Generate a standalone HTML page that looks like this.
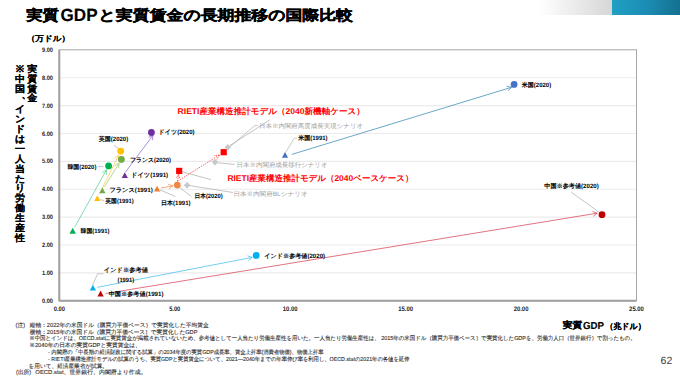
<!DOCTYPE html>
<html><head><meta charset="utf-8"><style>
html,body{margin:0;padding:0;background:#fff;}
body{width:680px;height:378px;overflow:hidden;font-family:"Liberation Sans",sans-serif;}
svg{display:block;text-rendering:geometricPrecision;font-family:"Liberation Sans",sans-serif;}
</style></head><body>
<svg width="680" height="378" viewBox="0 0 680 378">
<defs>
<linearGradient id="gg" x1="0" x2="1" y1="0" y2="0"><stop offset="0" stop-color="#ffffff"/><stop offset="1" stop-color="#d6d6d6"/></linearGradient>
<linearGradient id="bg" x1="0" x2="1" y1="0" y2="0"><stop offset="0" stop-color="#20a0c4"/><stop offset="0.5" stop-color="#1c8db5"/><stop offset="1" stop-color="#15708f"/></linearGradient>
</defs>
<rect x="540" y="0" width="72" height="15" fill="url(#gg)"/>
<rect x="612" y="0" width="68" height="15" fill="url(#bg)"/>
<line x1="59.3" y1="272.91" x2="636.5" y2="272.91" stroke="#ebebeb" stroke-width="1.1"/>
<line x1="59.3" y1="245.02" x2="636.5" y2="245.02" stroke="#ebebeb" stroke-width="1.1"/>
<line x1="59.3" y1="217.13" x2="636.5" y2="217.13" stroke="#ebebeb" stroke-width="1.1"/>
<line x1="59.3" y1="189.24" x2="636.5" y2="189.24" stroke="#ebebeb" stroke-width="1.1"/>
<line x1="59.3" y1="161.36" x2="636.5" y2="161.36" stroke="#ebebeb" stroke-width="1.1"/>
<line x1="59.3" y1="133.47" x2="636.5" y2="133.47" stroke="#ebebeb" stroke-width="1.1"/>
<line x1="59.3" y1="105.58" x2="636.5" y2="105.58" stroke="#ebebeb" stroke-width="1.1"/>
<line x1="59.3" y1="77.69" x2="636.5" y2="77.69" stroke="#ebebeb" stroke-width="1.1"/>
<rect x="59.3" y="49.8" width="577.20" height="251.00" fill="none" stroke="#a6a6a6" stroke-width="1"/>
<line x1="59.3" y1="49.8" x2="59.3" y2="301.3" stroke="#a0a0a0" stroke-width="2"/>
<line x1="59.3" y1="300.8" x2="636.5" y2="300.8" stroke="#a0a0a0" stroke-width="2"/>
<text x="53.0" y="301.40" font-size="6.3" font-weight="bold" text-anchor="end" dominant-baseline="central" fill="#262626" textLength="11.0" lengthAdjust="spacingAndGlyphs">0.00</text>
<text x="53.0" y="273.51" font-size="6.3" font-weight="bold" text-anchor="end" dominant-baseline="central" fill="#262626" textLength="11.0" lengthAdjust="spacingAndGlyphs">1.00</text>
<text x="53.0" y="245.62" font-size="6.3" font-weight="bold" text-anchor="end" dominant-baseline="central" fill="#262626" textLength="11.0" lengthAdjust="spacingAndGlyphs">2.00</text>
<text x="53.0" y="217.73" font-size="6.3" font-weight="bold" text-anchor="end" dominant-baseline="central" fill="#262626" textLength="11.0" lengthAdjust="spacingAndGlyphs">3.00</text>
<text x="53.0" y="189.84" font-size="6.3" font-weight="bold" text-anchor="end" dominant-baseline="central" fill="#262626" textLength="11.0" lengthAdjust="spacingAndGlyphs">4.00</text>
<text x="53.0" y="161.96" font-size="6.3" font-weight="bold" text-anchor="end" dominant-baseline="central" fill="#262626" textLength="11.0" lengthAdjust="spacingAndGlyphs">5.00</text>
<text x="53.0" y="134.07" font-size="6.3" font-weight="bold" text-anchor="end" dominant-baseline="central" fill="#262626" textLength="11.0" lengthAdjust="spacingAndGlyphs">6.00</text>
<text x="53.0" y="106.18" font-size="6.3" font-weight="bold" text-anchor="end" dominant-baseline="central" fill="#262626" textLength="11.0" lengthAdjust="spacingAndGlyphs">7.00</text>
<text x="53.0" y="78.29" font-size="6.3" font-weight="bold" text-anchor="end" dominant-baseline="central" fill="#262626" textLength="11.0" lengthAdjust="spacingAndGlyphs">8.00</text>
<text x="53.0" y="50.40" font-size="6.3" font-weight="bold" text-anchor="end" dominant-baseline="central" fill="#262626" textLength="11.0" lengthAdjust="spacingAndGlyphs">9.00</text>
<text x="59.30" y="309.6" font-size="6.5" font-weight="bold" text-anchor="middle" dominant-baseline="central" fill="#262626" textLength="11.2" lengthAdjust="spacingAndGlyphs">0.00</text>
<text x="174.74" y="309.6" font-size="6.5" font-weight="bold" text-anchor="middle" dominant-baseline="central" fill="#262626" textLength="11.2" lengthAdjust="spacingAndGlyphs">5.00</text>
<text x="290.18" y="309.6" font-size="6.5" font-weight="bold" text-anchor="middle" dominant-baseline="central" fill="#262626" textLength="14.8" lengthAdjust="spacingAndGlyphs">10.00</text>
<text x="405.62" y="309.6" font-size="6.5" font-weight="bold" text-anchor="middle" dominant-baseline="central" fill="#262626" textLength="14.8" lengthAdjust="spacingAndGlyphs">15.00</text>
<text x="521.06" y="309.6" font-size="6.5" font-weight="bold" text-anchor="middle" dominant-baseline="central" fill="#262626" textLength="14.8" lengthAdjust="spacingAndGlyphs">20.00</text>
<text x="636.50" y="309.6" font-size="6.5" font-weight="bold" text-anchor="middle" dominant-baseline="central" fill="#262626" textLength="14.8" lengthAdjust="spacingAndGlyphs">25.00</text>
<line x1="291.8" y1="154.4" x2="511.5" y2="87.3" stroke="#4691b8" stroke-width="0.8"/>
<line x1="511.50" y1="87.30" x2="506.60" y2="86.29" stroke="#4691b8" stroke-width="0.8"/>
<line x1="511.50" y1="87.30" x2="508.00" y2="90.87" stroke="#4691b8" stroke-width="0.8"/>
<line x1="105.6" y1="293.5" x2="597.2" y2="213.2" stroke="#d9505e" stroke-width="0.8"/>
<line x1="597.20" y1="213.20" x2="592.48" y2="211.54" stroke="#d9505e" stroke-width="0.8"/>
<line x1="597.20" y1="213.20" x2="593.26" y2="216.27" stroke="#d9505e" stroke-width="0.8"/>
<line x1="97.3" y1="287.3" x2="252.2" y2="257.4" stroke="#4fc3ef" stroke-width="0.8"/>
<line x1="252.20" y1="257.40" x2="247.44" y2="255.88" stroke="#4fc3ef" stroke-width="0.8"/>
<line x1="252.20" y1="257.40" x2="248.35" y2="260.59" stroke="#4fc3ef" stroke-width="0.8"/>
<line x1="74.64" y1="227.3" x2="106.42" y2="169.84" stroke="#5fd39e" stroke-width="0.8"/>
<line x1="106.42" y1="169.84" x2="102.20" y2="172.52" stroke="#5fd39e" stroke-width="0.8"/>
<line x1="106.42" y1="169.84" x2="106.39" y2="174.84" stroke="#5fd39e" stroke-width="0.8"/>
<line x1="99.08" y1="194.52" x2="118.69" y2="155.13" stroke="#ffc94a" stroke-width="0.8"/>
<line x1="118.69" y1="155.13" x2="114.59" y2="157.99" stroke="#ffc94a" stroke-width="0.8"/>
<line x1="118.69" y1="155.13" x2="118.88" y2="160.13" stroke="#ffc94a" stroke-width="0.8"/>
<line x1="104.5" y1="186.89" x2="119.04" y2="163.23" stroke="#9fcf86" stroke-width="0.8"/>
<line x1="119.04" y1="163.23" x2="114.70" y2="165.71" stroke="#9fcf86" stroke-width="0.8"/>
<line x1="119.04" y1="163.23" x2="118.78" y2="168.22" stroke="#9fcf86" stroke-width="0.8"/>
<line x1="125.5" y1="172.0" x2="153.0" y2="135.3" stroke="#9b6fce" stroke-width="0.8"/>
<line x1="153.00" y1="135.30" x2="148.45" y2="137.37" stroke="#9b6fce" stroke-width="0.8"/>
<line x1="153.00" y1="135.30" x2="152.29" y2="140.25" stroke="#9b6fce" stroke-width="0.8"/>
<line x1="161.04" y1="187.92" x2="172.87" y2="185.87" stroke="#f0905a" stroke-width="0.8"/>
<line x1="172.87" y1="185.87" x2="168.14" y2="184.26" stroke="#f0905a" stroke-width="0.8"/>
<line x1="172.87" y1="185.87" x2="168.96" y2="188.98" stroke="#f0905a" stroke-width="0.8"/>
<line x1="177.4" y1="181.6" x2="178.6" y2="174.2" stroke="#ff3b3b" stroke-width="0.8" stroke-dasharray="1.4 1.1"/>
<line x1="178.60" y1="174.20" x2="175.94" y2="178.43" stroke="#ff3b3b" stroke-width="0.8" stroke-dasharray="1.4 1.1"/>
<line x1="178.60" y1="174.20" x2="179.78" y2="179.06" stroke="#ff3b3b" stroke-width="0.8" stroke-dasharray="1.4 1.1"/>
<line x1="177.6" y1="181.2" x2="219.5" y2="155.0" stroke="#ff3b3b" stroke-width="0.8" stroke-dasharray="1.4 1.1"/>
<line x1="219.50" y1="155.00" x2="214.03" y2="155.60" stroke="#ff3b3b" stroke-width="0.8" stroke-dasharray="1.4 1.1"/>
<line x1="219.50" y1="155.00" x2="216.57" y2="159.65" stroke="#ff3b3b" stroke-width="0.8" stroke-dasharray="1.4 1.1"/>
<line x1="114" y1="145" x2="118.3" y2="148.5" stroke="#b0b0b0" stroke-width="0.75"/>
<line x1="97.7" y1="166.7" x2="103.6" y2="166.7" stroke="#b0b0b0" stroke-width="0.75"/>
<line x1="100.3" y1="199.6" x2="104.1" y2="200.6" stroke="#b0b0b0" stroke-width="0.75"/>
<line x1="179.7" y1="187.5" x2="191.3" y2="196.5" stroke="#b0b0b0" stroke-width="0.75"/>
<line x1="160" y1="189.9" x2="175.4" y2="196.5" stroke="#b0b0b0" stroke-width="0.75"/>
<line x1="182.2" y1="171.8" x2="211" y2="179.6" stroke="#b0b0b0" stroke-width="0.75"/>
<line x1="189.5" y1="185.6" x2="233" y2="192.5" stroke="#b0b0b0" stroke-width="0.75"/>
<line x1="217.5" y1="162.8" x2="234.7" y2="164.4" stroke="#b0b0b0" stroke-width="0.75"/>
<polyline points="225.5,150.6 254.6,125.6 257.8,125.6" fill="none" stroke="#b0b0b0" stroke-width="0.7"/>
<line x1="229.5" y1="145.8" x2="269.8" y2="119.9" stroke="#b0b0b0" stroke-width="0.75"/>
<polyline points="285.5,152.5 294.3,138.2 296.8,138.2" fill="none" stroke="#b0b0b0" stroke-width="0.7"/>
<line x1="571.2" y1="192.2" x2="599.3" y2="212.3" stroke="#b0b0b0" stroke-width="0.75"/>
<polyline points="92.5,285 97.6,273.8 103.5,273.8" fill="none" stroke="#b0b0b0" stroke-width="0.7"/>
<polygon points="281.90,157.80 288.10,157.80 285.00,152.00" fill="#4472c4"/>
<circle cx="514.1" cy="84.4" r="3.4" fill="#4472c4"/>
<polygon points="97.50,296.40 103.70,296.40 100.60,290.60" fill="#c00000"/>
<circle cx="602.0" cy="214.7" r="3.4" fill="#c00000"/>
<polygon points="89.80,290.50 96.00,290.50 92.90,284.70" fill="#00b0f0"/>
<circle cx="256.2" cy="255.4" r="3.4" fill="#00b0f0"/>
<polygon points="69.45,233.80 75.95,233.80 72.70,227.80" fill="#00b050"/>
<circle cx="108.6" cy="165.9" r="3.4" fill="#00b050"/>
<polygon points="94.20,201.00 100.40,201.00 97.30,195.20" fill="#ffc000"/>
<circle cx="120.7" cy="151.1" r="3.4" fill="#ffc000"/>
<polygon points="99.30,193.20 105.50,193.20 102.40,187.40" fill="#70ad47"/>
<circle cx="121.4" cy="159.4" r="3.4" fill="#70ad47"/>
<polygon points="121.70,178.10 127.90,178.10 124.80,172.30" fill="#7030a0"/>
<circle cx="151.4" cy="132.5" r="3.4" fill="#7030a0"/>
<polygon points="154.00,191.50 160.20,191.50 157.10,185.70" fill="#ed7d31"/>
<circle cx="177.3" cy="185.1" r="3.4" fill="#ee8644"/>
<rect x="176.10" y="167.80" width="6.2" height="6.2" fill="#ff0000"/>
<rect x="220.60" y="149.10" width="6.2" height="6.2" fill="#ff0000"/>
<polygon points="183.80,185.20 187.10,181.90 190.40,185.20 187.10,188.50" fill="#c8c8c8"/>
<polygon points="211.70,162.10 215.00,158.80 218.30,162.10 215.00,165.40" fill="#c8c8c8"/>
<polygon points="224.50,147.30 227.80,144.00 231.10,147.30 227.80,150.60" fill="#c8c8c8"/>
<text id="L1" x="98.80" y="139.00" font-size="6.2" font-weight="bold" fill="#000" dominant-baseline="central" textLength="29.40" lengthAdjust="spacingAndGlyphs">英国(2020)</text>
<text id="L2" x="130.00" y="160.20" font-size="6.2" font-weight="bold" fill="#000" dominant-baseline="central" textLength="41.00" lengthAdjust="spacingAndGlyphs">フランス(2020)</text>
<text id="L3" x="67.40" y="167.40" font-size="6.2" font-weight="bold" fill="#000" dominant-baseline="central" textLength="29.00" lengthAdjust="spacingAndGlyphs">韓国(2020)</text>
<text id="L4" x="158.60" y="132.40" font-size="6.2" font-weight="bold" fill="#000" dominant-baseline="central" textLength="36.00" lengthAdjust="spacingAndGlyphs">ドイツ(2020)</text>
<text id="L5" x="131.00" y="175.60" font-size="6.2" font-weight="bold" fill="#000" dominant-baseline="central" textLength="37.20" lengthAdjust="spacingAndGlyphs">ドイツ(1991)</text>
<text id="L6" x="109.40" y="190.40" font-size="6.2" font-weight="bold" fill="#000" dominant-baseline="central" textLength="43.40" lengthAdjust="spacingAndGlyphs">フランス(1991)</text>
<text id="L7" x="105.20" y="201.00" font-size="6.2" font-weight="bold" fill="#000" dominant-baseline="central" textLength="28.60" lengthAdjust="spacingAndGlyphs">英国(1991)</text>
<text id="L8" x="194.40" y="196.40" font-size="6.2" font-weight="bold" fill="#000" dominant-baseline="central" textLength="28.20" lengthAdjust="spacingAndGlyphs">日本(2020)</text>
<text id="L9" x="161.00" y="203.80" font-size="6.2" font-weight="bold" fill="#000" dominant-baseline="central" textLength="29.60" lengthAdjust="spacingAndGlyphs">日本(1991)</text>
<text id="L10" x="298.20" y="138.00" font-size="6.2" font-weight="bold" fill="#000" dominant-baseline="central" textLength="29.40" lengthAdjust="spacingAndGlyphs">米国(1991)</text>
<text id="L11" x="521.80" y="85.40" font-size="6.2" font-weight="bold" fill="#000" dominant-baseline="central" textLength="29.40" lengthAdjust="spacingAndGlyphs">米国(2020)</text>
<text id="L12" x="544.30" y="186.40" font-size="6.2" font-weight="bold" fill="#000" dominant-baseline="central" textLength="54.50" lengthAdjust="spacingAndGlyphs">中国※参考値(2020)</text>
<text id="L13" x="103.80" y="270.40" font-size="6.2" font-weight="bold" fill="#000" dominant-baseline="central" textLength="44.10" lengthAdjust="spacingAndGlyphs">インド※参考値</text>
<text id="L14" x="117.50" y="280.00" font-size="6.2" font-weight="bold" fill="#000" dominant-baseline="central" textLength="16.60" lengthAdjust="spacingAndGlyphs">(1991)</text>
<text id="L15" x="108.70" y="294.00" font-size="6.2" font-weight="bold" fill="#000" dominant-baseline="central" textLength="54.80" lengthAdjust="spacingAndGlyphs">中国※参考値(1991)</text>
<text id="L16" x="80.60" y="231.60" font-size="6.2" font-weight="bold" fill="#000" dominant-baseline="central" textLength="28.80" lengthAdjust="spacingAndGlyphs">韓国(1991)</text>
<text id="L17" x="264.30" y="256.40" font-size="6.2" font-weight="bold" fill="#000" dominant-baseline="central" textLength="60.80" lengthAdjust="spacingAndGlyphs">インド※参考値(2020)</text>
<text id="L18" x="177.60" y="111.10" font-size="8.4" font-weight="bold" fill="#ff0000" dominant-baseline="central" textLength="187.20" lengthAdjust="spacingAndGlyphs">RIETI産業構造推計モデル（2040新機軸ケース）</text>
<text id="L19" x="227.40" y="178.10" font-size="8.4" font-weight="bold" fill="#ff0000" dominant-baseline="central" textLength="186.00" lengthAdjust="spacingAndGlyphs">RIETI産業構造推計モデル（2040ベースケース）</text>
<text id="L20" x="259.00" y="126.70" font-size="6.3" font-weight="normal" fill="#a0a0a0" dominant-baseline="central" textLength="104.20" lengthAdjust="spacingAndGlyphs">日本※内閣府高度成長実現シナリオ</text>
<text id="L21" x="236.60" y="165.30" font-size="6.3" font-weight="normal" fill="#a0a0a0" dominant-baseline="central" textLength="91.00" lengthAdjust="spacingAndGlyphs">日本※内閣府成長移行シナリオ</text>
<text id="L22" x="233.40" y="194.50" font-size="6.3" font-weight="normal" fill="#a0a0a0" dominant-baseline="central" textLength="74.20" lengthAdjust="spacingAndGlyphs">日本※内閣府BLシナリオ</text>
<text id="T1" x="26.20" y="15.30" transform="translate(0 15.30) scale(1 0.84) translate(0 -15.30)" font-size="17" font-weight="bold" fill="#000" stroke="#000" stroke-width="0.5" dominant-baseline="central" textLength="32.70" lengthAdjust="spacingAndGlyphs">実質</text>
<text id="T2" x="60.60" y="15.25" font-size="17.7" font-weight="bold" fill="#000" stroke="#000" stroke-width="0.15" dominant-baseline="central" textLength="37.00" lengthAdjust="spacingAndGlyphs">GDP</text>
<text id="T3" x="98.60" y="15.30" transform="translate(0 15.30) scale(1 0.84) translate(0 -15.30)" font-size="17" font-weight="bold" fill="#000" stroke="#000" stroke-width="0.5" dominant-baseline="central" textLength="254.40" lengthAdjust="spacingAndGlyphs">と実質賃金の長期推移の国際比較</text>
<text id="X1" x="562.80" y="326.00" transform="translate(0 326.00) scale(1 0.9) translate(0 -326.00)" font-size="9.8" font-weight="bold" fill="#000" stroke="#000" stroke-width="0.2" dominant-baseline="central" textLength="19.50" lengthAdjust="spacingAndGlyphs">実質</text>
<text id="X2" x="583.00" y="326.55" font-size="10.2" font-weight="bold" fill="#000" stroke="#000" stroke-width="0.1" dominant-baseline="central" textLength="21.00" lengthAdjust="spacingAndGlyphs">GDP</text>
<text id="X3" x="605.40" y="326.10" transform="translate(0 326.10) scale(1 0.9) translate(0 -326.10)" font-size="9.0" font-weight="bold" fill="#000" stroke="#000" stroke-width="0.15" dominant-baseline="central" textLength="40.30" lengthAdjust="spacingAndGlyphs">（兆ドル）</text>
<text id="A1" x="26.80" y="38.20" transform="translate(0 38.20) scale(1 0.9) translate(0 -38.20)" font-size="8.5" font-weight="bold" fill="#000" stroke="#000" stroke-width="0.1" dominant-baseline="central" textLength="43.20" lengthAdjust="spacingAndGlyphs">（万ドル）</text>
<text x="32.20" y="69.80" transform="translate(0 69.80) scale(1 0.93) translate(0 -69.80)" font-size="10" font-weight="bold" text-anchor="middle" dominant-baseline="central" fill="#000" stroke="#000" stroke-width="0.1">実</text>
<text x="32.20" y="79.55" transform="translate(0 79.55) scale(1 0.93) translate(0 -79.55)" font-size="10" font-weight="bold" text-anchor="middle" dominant-baseline="central" fill="#000" stroke="#000" stroke-width="0.1">質</text>
<text x="32.20" y="89.30" transform="translate(0 89.30) scale(1 0.93) translate(0 -89.30)" font-size="10" font-weight="bold" text-anchor="middle" dominant-baseline="central" fill="#000" stroke="#000" stroke-width="0.1">賃</text>
<text x="32.20" y="99.05" transform="translate(0 99.05) scale(1 0.93) translate(0 -99.05)" font-size="10" font-weight="bold" text-anchor="middle" dominant-baseline="central" fill="#000" stroke="#000" stroke-width="0.1">金</text>
<text x="20.00" y="70.10" transform="translate(0 70.10) scale(1 0.93) translate(0 -70.10)" font-size="10" font-weight="bold" text-anchor="middle" dominant-baseline="central" fill="#000" stroke="#000" stroke-width="0.1">※</text>
<text x="20.00" y="80.02" transform="translate(0 80.02) scale(1 0.93) translate(0 -80.02)" font-size="10" font-weight="bold" text-anchor="middle" dominant-baseline="central" fill="#000" stroke="#000" stroke-width="0.1">中</text>
<text x="20.00" y="89.94" transform="translate(0 89.94) scale(1 0.93) translate(0 -89.94)" font-size="10" font-weight="bold" text-anchor="middle" dominant-baseline="central" fill="#000" stroke="#000" stroke-width="0.1">国</text>
<text x="26.50" y="95.36" transform="translate(0 95.36) scale(1 0.93) translate(0 -95.36)" font-size="10" font-weight="bold" text-anchor="middle" dominant-baseline="central" fill="#000" stroke="#000" stroke-width="0.1">、</text>
<text x="20.00" y="109.78" transform="translate(0 109.78) scale(1 0.93) translate(0 -109.78)" font-size="10" font-weight="bold" text-anchor="middle" dominant-baseline="central" fill="#000" stroke="#000" stroke-width="0.1">イ</text>
<text x="20.00" y="119.70" transform="translate(0 119.70) scale(1 0.93) translate(0 -119.70)" font-size="10" font-weight="bold" text-anchor="middle" dominant-baseline="central" fill="#000" stroke="#000" stroke-width="0.1">ン</text>
<text x="20.00" y="129.62" transform="translate(0 129.62) scale(1 0.93) translate(0 -129.62)" font-size="10" font-weight="bold" text-anchor="middle" dominant-baseline="central" fill="#000" stroke="#000" stroke-width="0.1">ド</text>
<text x="20.00" y="139.54" transform="translate(0 139.54) scale(1 0.93) translate(0 -139.54)" font-size="10" font-weight="bold" text-anchor="middle" dominant-baseline="central" fill="#000" stroke="#000" stroke-width="0.1">は</text>
<text x="20.00" y="149.46" transform="translate(0 149.46) scale(1 0.93) translate(0 -149.46)" font-size="10" font-weight="bold" text-anchor="middle" dominant-baseline="central" fill="#000" stroke="#000" stroke-width="0.1">一</text>
<text x="20.00" y="159.38" transform="translate(0 159.38) scale(1 0.93) translate(0 -159.38)" font-size="10" font-weight="bold" text-anchor="middle" dominant-baseline="central" fill="#000" stroke="#000" stroke-width="0.1">人</text>
<text x="20.00" y="169.30" transform="translate(0 169.30) scale(1 0.93) translate(0 -169.30)" font-size="10" font-weight="bold" text-anchor="middle" dominant-baseline="central" fill="#000" stroke="#000" stroke-width="0.1">当</text>
<text x="20.00" y="179.22" transform="translate(0 179.22) scale(1 0.93) translate(0 -179.22)" font-size="10" font-weight="bold" text-anchor="middle" dominant-baseline="central" fill="#000" stroke="#000" stroke-width="0.1">た</text>
<text x="20.00" y="189.14" transform="translate(0 189.14) scale(1 0.93) translate(0 -189.14)" font-size="10" font-weight="bold" text-anchor="middle" dominant-baseline="central" fill="#000" stroke="#000" stroke-width="0.1">り</text>
<text x="20.00" y="199.06" transform="translate(0 199.06) scale(1 0.93) translate(0 -199.06)" font-size="10" font-weight="bold" text-anchor="middle" dominant-baseline="central" fill="#000" stroke="#000" stroke-width="0.1">労</text>
<text x="20.00" y="208.98" transform="translate(0 208.98) scale(1 0.93) translate(0 -208.98)" font-size="10" font-weight="bold" text-anchor="middle" dominant-baseline="central" fill="#000" stroke="#000" stroke-width="0.1">働</text>
<text x="20.00" y="218.90" transform="translate(0 218.90) scale(1 0.93) translate(0 -218.90)" font-size="10" font-weight="bold" text-anchor="middle" dominant-baseline="central" fill="#000" stroke="#000" stroke-width="0.1">生</text>
<text x="20.00" y="228.82" transform="translate(0 228.82) scale(1 0.93) translate(0 -228.82)" font-size="10" font-weight="bold" text-anchor="middle" dominant-baseline="central" fill="#000" stroke="#000" stroke-width="0.1">産</text>
<text x="20.00" y="238.74" transform="translate(0 238.74) scale(1 0.93) translate(0 -238.74)" font-size="10" font-weight="bold" text-anchor="middle" dominant-baseline="central" fill="#000" stroke="#000" stroke-width="0.1">性</text>
<text id="L23" x="15.60" y="325.70" font-size="5.7" font-weight="normal" fill="#333333" stroke="#333333" stroke-width="0.12" dominant-baseline="central" textLength="9.60" lengthAdjust="spacingAndGlyphs">(注)</text>
<text id="L24" x="29.80" y="326.20" font-size="5.7" font-weight="normal" fill="#333333" stroke="#333333" stroke-width="0.12" dominant-baseline="central" textLength="178.80" lengthAdjust="spacingAndGlyphs">縦軸：2022年の米国ドル（購買力平価ベース）で実質化した平均賃金</text>
<text id="L25" x="29.80" y="333.00" font-size="5.7" font-weight="normal" fill="#333333" stroke="#333333" stroke-width="0.12" dominant-baseline="central" textLength="167.70" lengthAdjust="spacingAndGlyphs">横軸：2015年の米国ドル（購買力平価ベース）で実質化したGDP</text>
<text id="L26" x="29.20" y="339.00" font-size="5.7" font-weight="normal" fill="#333333" stroke="#333333" stroke-width="0.12" dominant-baseline="central" textLength="606.40" lengthAdjust="spacingAndGlyphs">※中国とインドは、OECD.statに実質賃金が掲載されていないため、参考値として一人当たり労働生産性を用いた。一人当たり労働生産性は、 2015年の米国ドル（購買力平価ベース）で実質化したGDPを、労働力人口（世界銀行）で割ったもの。</text>
<text id="L27" x="29.20" y="346.00" font-size="5.7" font-weight="normal" fill="#333333" stroke="#333333" stroke-width="0.12" dominant-baseline="central" textLength="111.60" lengthAdjust="spacingAndGlyphs">※2040年の日本の実質GDPと実質賃金は、</text>
<text id="L28" x="48.10" y="353.20" font-size="5.7" font-weight="normal" fill="#333333" stroke="#333333" stroke-width="0.12" dominant-baseline="central" textLength="275.40" lengthAdjust="spacingAndGlyphs">- 内閣府の「中長期の経済財政に関する試算」の2034年度の実質GDP成長率、賃金上昇率(消費者物価)、物価上昇率</text>
<text id="L29" x="48.10" y="360.00" font-size="5.7" font-weight="normal" fill="#333333" stroke="#333333" stroke-width="0.12" dominant-baseline="central" textLength="361.30" lengthAdjust="spacingAndGlyphs">- RIETI産業構造推計モデルの試算のうち、実質GDPと実質賃金について、2021—2040年までの年率伸び率を利用し、OECD.statの2021年の各値を延伸</text>
<text id="L30" x="28.60" y="366.60" font-size="5.7" font-weight="normal" fill="#333333" stroke="#333333" stroke-width="0.12" dominant-baseline="central" textLength="79.40" lengthAdjust="spacingAndGlyphs">を用いて、経済産業省が試算。</text>
<text id="L31" x="16.00" y="373.40" font-size="5.7" font-weight="normal" fill="#333333" stroke="#333333" stroke-width="0.12" dominant-baseline="central" textLength="15.20" lengthAdjust="spacingAndGlyphs">(出所)</text>
<text id="L32" x="35.30" y="373.40" font-size="5.7" font-weight="normal" fill="#333333" stroke="#333333" stroke-width="0.12" dominant-baseline="central" textLength="111.30" lengthAdjust="spacingAndGlyphs">OECD.stat、世界銀行、内閣府より作成。</text>
<text x="660.6" y="361.4" font-size="10.5" fill="#404040" dominant-baseline="central">62</text>
</svg>
</body></html>
